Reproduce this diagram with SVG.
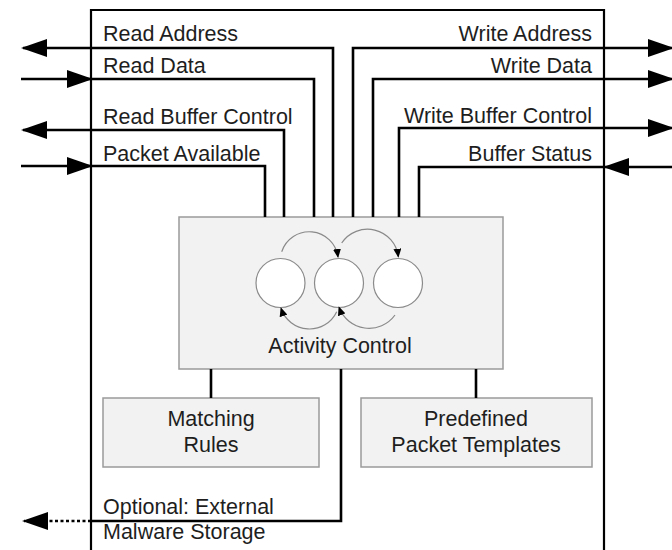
<svg xmlns="http://www.w3.org/2000/svg" width="672" height="550" viewBox="0 0 672 550">
  <defs>
    <style>
      .lbl { font-family: "Liberation Sans", Arial, sans-serif; font-size: 21.5px; fill: #1e1e1e; }
      .mid { text-anchor: middle; }
      .end { text-anchor: end; }
      .wire { fill: none; stroke: #000; stroke-width: 2.6; }
      .dash { fill: none; stroke: #000; stroke-width: 2.4; stroke-dasharray: 3 2.5; }
      .frame { fill: none; stroke: #000; stroke-width: 2.2; }
      .block { fill: #f2f2f2; stroke: #9a9a9a; stroke-width: 1.5; }
      .state { fill: #fff; stroke: #8a8a8a; stroke-width: 1.2; }
      .trans { fill: none; stroke: #8a8a8a; stroke-width: 1.2; }
    </style>
    <marker id="arrow" markerUnits="userSpaceOnUse" markerWidth="26" markerHeight="18" viewBox="0 0 26 18" refX="24" refY="9" orient="auto">
      <path d="M0,0 L26,9 L0,18 Z" fill="#000"/>
    </marker>
    <marker id="tip" markerUnits="userSpaceOnUse" markerWidth="9" markerHeight="8" viewBox="0 0 9 8" refX="8" refY="4" orient="auto">
      <path d="M0,0 L9,4 L0,8 Z" fill="#000"/>
    </marker>
  </defs>

  <!-- enclosing module frame (open at the bottom) -->
  <path class="frame" d="M91,556 V10 H604 V556"/>

  <!-- Activity Control with its three-state cycle -->
  <g id="activity-control">
    <rect class="block" x="179" y="217" width="324" height="152"/>
    <circle class="state" cx="280.5" cy="283" r="24.5"/>
    <circle class="state" cx="339" cy="283" r="24.5"/>
    <circle class="state" cx="398" cy="283" r="24.5"/>
    <path class="trans" d="M281.7,251.7 A29,29 0 0 1 338,257" marker-end="url(#tip)"/>
    <path class="trans" d="M341.7,243 A31,31 0 0 1 398.3,256.7" marker-end="url(#tip)"/>
    <path class="trans" d="M336.7,311.7 A30,30 0 0 1 281,308.3" marker-end="url(#tip)"/>
    <path class="trans" d="M395,315 A32,32 0 0 1 339,307.3" marker-end="url(#tip)"/>
    <text class="lbl mid" x="340" y="353">Activity Control</text>
  </g>

  <g id="matching-rules">
    <rect class="block" x="103" y="398" width="216" height="69"/>
    <text class="lbl mid" x="211" y="426">Matching</text>
    <text class="lbl mid" x="211" y="452">Rules</text>
  </g>

  <g id="packet-templates">
    <rect class="block" x="361" y="398" width="231" height="69"/>
    <text class="lbl mid" x="476" y="426">Predefined</text>
    <text class="lbl mid" x="476" y="452">Packet Templates</text>
  </g>

  <!-- signal labels -->
  <g id="signal-labels">
    <text class="lbl" x="103" y="41">Read Address</text>
    <text class="lbl" x="103" y="73">Read Data</text>
    <text class="lbl" x="103" y="124">Read Buffer Control</text>
    <text class="lbl" x="103" y="160.5">Packet Available</text>
    <text class="lbl end" x="592" y="41">Write Address</text>
    <text class="lbl end" x="592" y="72.5">Write Data</text>
    <text class="lbl end" x="592" y="123">Write Buffer Control</text>
    <text class="lbl end" x="592" y="160.5">Buffer Status</text>
    <text class="lbl" x="103" y="513.5">Optional: External</text>
    <text class="lbl" x="103" y="539">Malware Storage</text>
  </g>

  <!-- connectors -->
  <g id="connectors">
    <!-- read side -->
    <path class="wire" d="M333,217 V48 H23" marker-end="url(#arrow)"/>
    <path class="wire" d="M21,79 H91" marker-end="url(#arrow)"/>
    <path class="wire" d="M91,79 H314 V217"/>
    <path class="wire" d="M284,217 V130 H23" marker-end="url(#arrow)"/>
    <path class="wire" d="M21,166 H91" marker-end="url(#arrow)"/>
    <path class="wire" d="M91,166 H265 V217"/>
    <!-- write side -->
    <path class="wire" d="M353,217 V48 H672" marker-end="url(#arrow)"/>
    <path class="wire" d="M373,217 V79 H672" marker-end="url(#arrow)"/>
    <path class="wire" d="M399,217 V128 H672" marker-end="url(#arrow)"/>
    <path class="wire" d="M672,167 H605" marker-end="url(#arrow)"/>
    <path class="wire" d="M605,167 H419 V217"/>
    <!-- internal links -->
    <path class="wire" d="M211,369 V398"/>
    <path class="wire" d="M476,369 V398"/>
    <!-- optional external storage -->
    <path class="wire" d="M341,369 V521 H91"/>
    <path class="dash" d="M91,521 H24" marker-end="url(#arrow)"/>
  </g>
</svg>
